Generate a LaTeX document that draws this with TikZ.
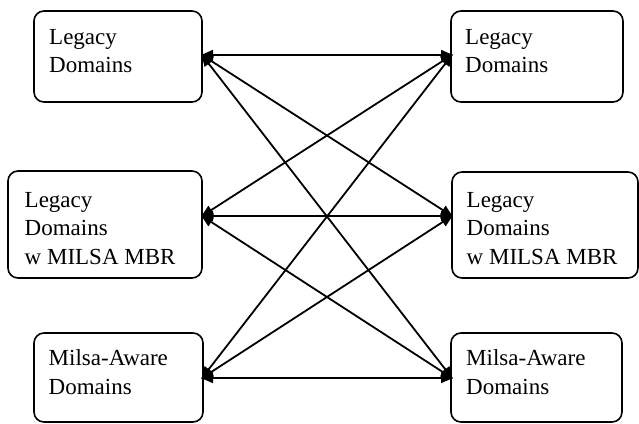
\documentclass[tikz,border=0pt]{standalone}
\usepackage{fontspec}
\setmainfont{Liberation Serif}[Ligatures=TeX]
\usetikzlibrary{arrows.meta}
\begin{document}
\begin{tikzpicture}[x=1pt,y=-1pt,
  box/.style={draw,line width=1.6pt,rounded corners=10pt,inner sep=0pt},
  lbl/.style={anchor=north west,inner sep=0pt,align=left,font=\rmfamily\fontsize{23}{28.5}\selectfont},
  conn/.style={line width=1.8pt,{Triangle[length=12pt,width=10pt]}-{Triangle[length=12pt,width=10pt]},shorten <=-1pt,shorten >=-1pt}]
\useasboundingbox (0,0) rectangle (639,423);
% boxes
\node[box,minimum width=168pt,minimum height=91pt] (LT) at (118,56.5) {};
\node[box,minimum width=194pt,minimum height=107pt] (LM) at (105,224.5) {};
\node[box,minimum width=169pt,minimum height=89pt] (LB) at (118.5,377.5) {};
\node[box,minimum width=172pt,minimum height=91pt] (RT) at (537,56.5) {};
\node[box,minimum width=186pt,minimum height=106pt] (RM) at (545,225) {};
\node[box,minimum width=171pt,minimum height=89pt] (RB) at (536.5,377.5) {};
% texts
\node[lbl] (tLT) at (49,29) {Legacy\\Domains};
\node[lbl] (tLM) at (24.5,192) {Legacy\\Domains\\w MILSA MBR};
\node[lbl] (tLB) at (48.5,349.5) {Milsa-Aware\\Domains};
\node[lbl] (tRT) at (465,29) {Legacy\\Domains};
\node[lbl] (tRM) at (466.5,192) {Legacy\\Domains\\w MILSA MBR};
\node[lbl] (tRB) at (466,349.5) {Milsa-Aware\\Domains};
% anchor coordinates
\coordinate (a1) at (202,55);
\coordinate (a2) at (202,216);
\coordinate (a3) at (202,378);
\coordinate (b1) at (452,55);
\coordinate (b2) at (452,216);
\coordinate (b3) at (452,378);
\foreach \i in {1,2,3}{
  \foreach \j in {1,2,3}{
    \draw[conn] (a\i) -- (b\j);
  }
}
\end{tikzpicture}
\end{document}
